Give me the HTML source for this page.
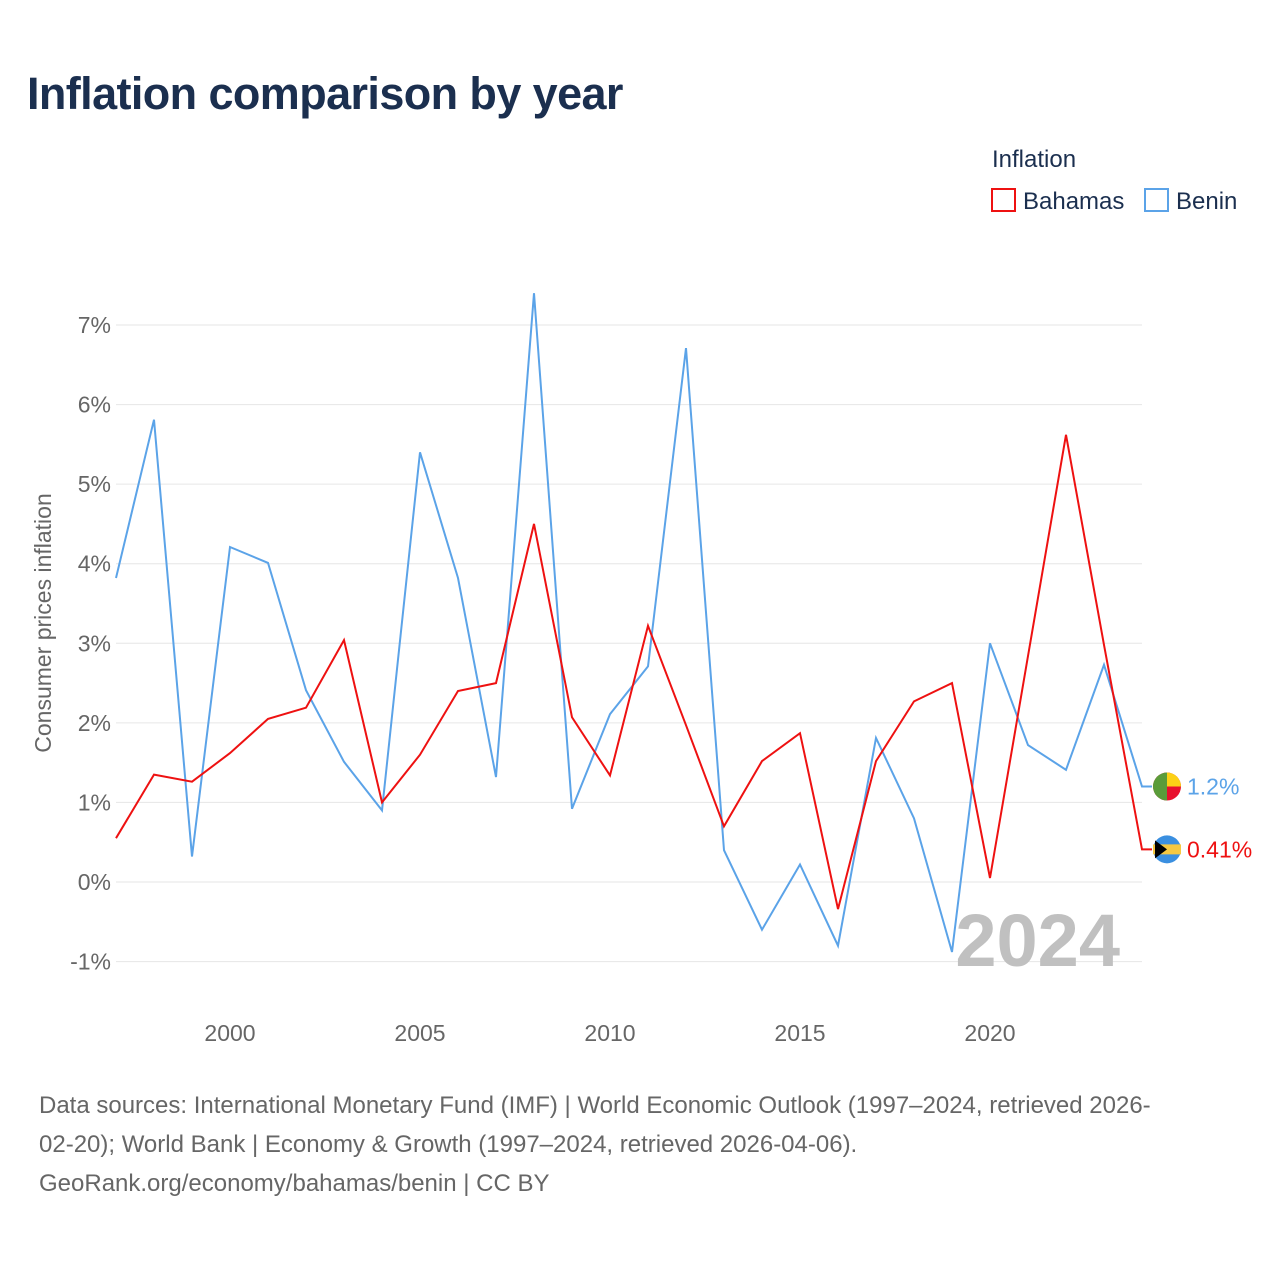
<!DOCTYPE html>
<html><head><meta charset="utf-8"><style>
html,body{margin:0;padding:0;background:#fff;}
body{width:1280px;height:1280px;position:relative;font-family:"Liberation Sans",sans-serif;overflow:hidden;}
#title{position:absolute;left:27px;top:68px;font-size:45px;font-weight:bold;color:#1b2f4f;letter-spacing:-0.6px;}
#src{position:absolute;left:39px;top:1086px;width:1240px;font-size:24px;line-height:39px;color:#666;white-space:nowrap;}
</style></head><body>
<div id="title">Inflation comparison by year</div>
<svg id="chart" width="1280" height="1080" style="position:absolute;left:0;top:0"></svg>
<div id="src">Data sources: International Monetary Fund (IMF) | World Economic Outlook (1997–2024, retrieved 2026-<br>02-20); World Bank | Economy &amp; Growth (1997–2024, retrieved 2026-04-06).<br>GeoRank.org/economy/bahamas/benin | CC BY</div>
<script>
const years=[1997,1998,1999,2000,2001,2002,2003,2004,2005,2006,2007,2008,2009,2010,2011,2012,2013,2014,2015,2016,2017,2018,2019,2020,2021,2022,2023,2024];
const bahamas=[0.55,1.35,1.26,1.62,2.05,2.19,3.04,1.0,1.6,2.4,2.5,4.5,2.07,1.34,3.22,1.97,0.7,1.52,1.87,-0.34,1.52,2.27,2.5,0.05,2.84,5.62,2.98,0.41];
const benin=[3.82,5.81,0.32,4.21,4.01,2.41,1.51,0.9,5.4,3.82,1.32,7.4,0.92,2.11,2.71,6.71,0.4,-0.6,0.22,-0.8,1.81,0.8,-0.88,3.0,1.72,1.41,2.73,1.2];
const yTicks=[-1,0,1,2,3,4,5,6,7];
const xTicks=[2000,2005,2010,2015,2020];
const NS="http://www.w3.org/2000/svg";
const svg=document.getElementById('chart');
const X=y=>116+(y-1997)*(1142-116)/27;
const Y=v=>882-v*79.57;
function mk(t,a,p){const e=document.createElementNS(NS,t);for(const k in a)e.setAttribute(k,a[k]);(p||svg).appendChild(e);return e;}
yTicks.forEach(t=>{
 const g=mk('line',{x1:116,x2:1142,y1:Y(t),y2:Y(t),stroke:'#e6e6e6','stroke-width':1});
 
 
 const l=mk('text',{x:111,y:Y(t)+8,'text-anchor':'end','font-size':23,fill:'#666','font-family':'Liberation Sans, sans-serif'});
 l.textContent=t+'%';
 
 
});
xTicks.forEach(t=>{
 const l=mk('text',{x:X(t),y:1041,'text-anchor':'middle','font-size':23,fill:'#666','font-family':'Liberation Sans, sans-serif'});
 l.textContent=t;
 
 
});
const yt=mk('text',{transform:'translate(51,623) rotate(-90)','text-anchor':'middle','font-size':23,fill:'#666','font-family':'Liberation Sans, sans-serif'});
yt.textContent='Consumer prices inflation';


const wm=mk('text',{x:1120,y:966,'text-anchor':'end','font-size':74,'font-weight':'bold',fill:'#c0c0c0','font-family':'Liberation Sans, sans-serif'});
wm.textContent='2024';


function series(vals,color,name){
 let d=vals.map((v,i)=>(i?'L':'M')+X(years[i]).toFixed(1)+','+Y(v).toFixed(1)).join(' ');
 d+=' L1152,'+Y(vals[vals.length-1]).toFixed(1);
 const p=mk('path',{d:d,fill:'none',stroke:color,'stroke-width':2});
 
 
}
series(benin,'#5ba3e8','benin');
series(bahamas,'#ee1111','bahamas');
const vb=benin[benin.length-1], vh=bahamas[bahamas.length-1];
const fb=mk('g',{});


const cy1=Y(vb);
mk('circle',{cx:1167,cy:cy1,r:14,fill:'#e8112d'},fb);
mk('path',{d:`M1167,${cy1-14} A14,14 0 0 0 1153,${cy1} A14,14 0 0 0 1167,${cy1+14} Z`,fill:'#5a9c3a'},fb);
mk('path',{d:`M1167,${cy1-14} A14,14 0 0 1 1181,${cy1} L1167,${cy1} Z`,fill:'#fcd116'},fb);
const lb=mk('text',{x:1187,y:cy1+8,'font-size':23,fill:'#5ba3e8','font-family':'Liberation Sans, sans-serif'});
lb.textContent=vb+'%';


const fh=mk('g',{});


const cy2=Y(vh);
mk('circle',{cx:1167,cy:cy2,r:14,fill:'#3a8fe0'},fh);
mk('rect',{x:1153,y:cy2-5,width:28,height:10,fill:'#f5c842'},fh);
mk('path',{d:`M1155,${cy2-9} L1167,${cy2} L1155,${cy2+9} Z`,fill:'#000'},fh);
const lh=mk('text',{x:1187,y:cy2+8,'font-size':23,fill:'#ee1111','font-family':'Liberation Sans, sans-serif'});
lh.textContent=vh+'%';


const lt=mk('text',{x:992,y:167,'font-size':24,fill:'#1b2f4f','font-family':'Liberation Sans, sans-serif'});
lt.textContent='Inflation';


[['Bahamas','#ee1111',992],['Benin','#5ba3e8',1145]].forEach(([n,c,x])=>{
 const g=mk('g',{});
 
 
 mk('rect',{x:x,y:189,width:23,height:22,fill:'#fff',stroke:c,'stroke-width':2},g);
 const t=mk('text',{x:x+31,y:209,'font-size':24,fill:'#1b2f4f','font-family':'Liberation Sans, sans-serif'},g);
 t.textContent=n;
});
</script>
</body></html>
